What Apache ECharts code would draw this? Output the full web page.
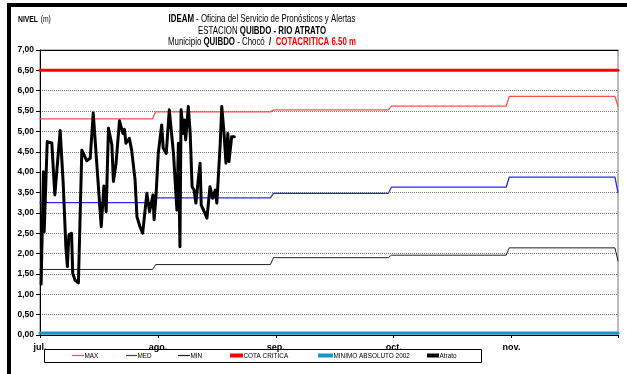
<!DOCTYPE html>
<html>
<head>
<meta charset="utf-8">
<script src="https://cdn.jsdelivr.net/npm/echarts@6/dist/echarts.min.js"></script>
<style>
  html, body { margin: 0; padding: 0; background: #fff; }
  #chart { width: 627px; height: 374px; }
</style>
</head>
<body>
<div id="chart"></div>
<script>
// Horizontal axis: days counted from 1 July, each month drawn as a 31-day slot
const monthLabels = ['jul.', 'ago.', 'sep.', 'oct.', 'nov.'];
const daysPerSlot = 31;
const axisEnd = 152;

// Monthly reference levels (m), July..November, plus the closing value at the right edge
const maxLevels = [5.31, 5.48, 5.53, 5.62, 5.86];
const maxClose = 5.62;
const medLevels = [3.25, 3.37, 3.48, 3.63, 3.88];
const medClose = 3.50;
const minLevels = [1.61, 1.73, 1.90, 1.96, 2.14];
const minClose = 1.82;

const cotaCritica = 6.50;
const minimoAbsoluto2002 = 0.05;

// Observed level of the Atrato river at Quibdó
const atratoDay = [0.3, 0.9, 1.1, 1.9, 2.4, 3.1, 3.9, 5.3, 6.1, 6.8, 7.2, 7.6, 8.3, 8.6, 9.2, 10.1,
  11.0, 12.3, 13.2, 14.0, 16.1, 16.8, 17.4, 18.0, 18.9, 19.3, 20.0, 20.9, 21.8, 22.2, 22.6, 23.5,
  24.1, 25.0, 25.5, 26.3, 27.0, 28.1, 28.8, 29.7, 30.0, 30.5, 31.1, 32.0, 32.4, 33.2, 34.0, 35.1,
  36.0, 36.4, 36.8, 37.1, 37.7, 38.0, 38.3, 39.0, 39.5, 40.0, 40.5, 41.0, 41.7, 42.1, 42.4, 43.0,
  43.9, 44.7, 45.4, 46.1, 46.5, 46.9, 47.4, 47.8, 48.4, 48.9, 49.4, 49.7, 50.4, 51.1];
const atratoLevel = [1.25, 4.01, 2.54, 4.75, 4.78, 4.72, 3.44, 5.02, 3.73, 2.17, 1.68, 2.46, 2.50, 1.52, 1.35, 1.28,
  4.54, 4.28, 4.34, 5.45, 2.66, 3.66, 3.03, 5.08, 4.67, 3.77, 4.22, 5.26, 4.95, 5.05, 4.71, 4.83,
  4.54, 3.81, 2.90, 2.66, 2.50, 3.48, 3.03, 3.44, 2.83, 3.41, 4.46, 5.16, 4.59, 4.46, 5.53, 4.46,
  3.07, 4.71, 2.17, 5.53, 4.95, 5.28, 4.79, 5.61, 4.95, 3.64, 3.56, 3.24, 3.89, 4.22, 3.19, 3.07,
  2.87, 3.64, 3.36, 3.56, 3.24, 3.89, 4.71, 5.61, 4.95, 4.22, 4.95, 4.26, 4.87, 4.87];

// Build step polylines: flat within each month, changing at the month boundary
function monthlySteps(levels, close) {
  const pts = [];
  levels.forEach((v, m) => {
    const start = m === 0 ? 0 : m * daysPerSlot - 0.6;
    const end = Math.min((m + 1) * daysPerSlot - 1.4, axisEnd - 0.8);
    pts.push([start, v], [end, v]);
  });
  pts.push([axisEnd, close]);
  return pts;
}
const flat = v => [[0, v], [axisEnd, v]];
const atrato = atratoDay.map((d, i) => [d, atratoLevel[i]]);

const sans = "'Liberation Sans', Arial, sans-serif";
const headerSqueeze = 0.75;  // horizontal compression for the narrow header lettering
const legendSqueeze = 0.8;   // and for the legend lettering

// Series styling (name, colour, width)
const seriesStyle = [
  { name: 'MAX', color: '#ff5050', width: 1.3 },
  { name: 'MED', color: '#2a2aff', width: 1.3 },
  { name: 'MIN', color: '#222222', width: 1 },
  { name: 'COTA CRITICA', color: '#ff0000', width: 3 },
  { name: 'MINIMO ABSOLUTO 2002', color: '#1496cf', width: 3 },
  { name: 'Atrato', color: '#000000', width: 3 }
];
const seriesData = [
  monthlySteps(maxLevels, maxClose),
  monthlySteps(medLevels, medClose),
  monthlySteps(minLevels, minClose),
  flat(cotaCritica),
  flat(minimoAbsoluto2002),
  atrato
];

// Legend key positions inside the framed box
const legendX = [72, 126, 178, 230, 318, 427];
const legendKeyLen = [12, 11, 12, 13, 15, 12];
const legendLineW = [1.2, 1.2, 1.2, 4, 4, 4];
const legendY = 355.5;

const headerLine = (y, text, rich) => ({
  type: 'text', x: 262, y, scaleX: headerSqueeze, silent: true,
  style: { text, rich, align: 'center', verticalAlign: 'middle' }
});
const hRich = {
  b: { fontFamily: sans, fontSize: 10.5, fontWeight: 'bold', fill: '#000' },
  r: { fontFamily: sans, fontSize: 10.5, fontWeight: 'normal', fill: '#000' },
  red: { fontFamily: sans, fontSize: 10.5, fontWeight: 'bold', fill: '#ff0000' }
};

const graphics = [
  { type: 'rect', shape: { x: 9, y: 5, width: 660, height: 420 }, style: { fill: 'none', stroke: '#000', lineWidth: 4 }, silent: true },
  headerLine(19.5, '{b|IDEAM}{r| - Oficina del Servicio de Pronósticos y Alertas}', hRich),
  headerLine(31, '{r|ESTACION }{b|QUIBDO - RIO ATRATO}', hRich),
  headerLine(42.5, '{r|Municipio }{b|QUIBDO}{r| - Chocó  }{b|/  }{red|COTACRITICA 6.50 m}', hRich),
  { type: 'text', x: 18, y: 20, scaleX: legendSqueeze, silent: true, style: {
      text: '{b|NIVEL} {r|(m)}', verticalAlign: 'middle', rich: {
        b: { fontFamily: sans, fontSize: 8.5, fontWeight: 'bold', fill: '#000' },
        r: { fontFamily: sans, fontSize: 8.5, fontWeight: 'normal', fill: '#000' } } } },
  { type: 'rect', shape: { x: 44.5, y: 349.5, width: 437, height: 13 }, style: { fill: 'none', stroke: '#000', lineWidth: 1 }, silent: true }
];
seriesStyle.forEach((s, i) => {
  const x0 = legendX[i], x1 = x0 + legendKeyLen[i];
  graphics.push({ type: 'line', silent: true, shape: { x1: x0, y1: legendY, x2: x1, y2: legendY },
    style: { stroke: s.color, lineWidth: legendLineW[i] } });
  graphics.push({ type: 'text', x: x1 + 0.5, y: legendY, scaleX: legendSqueeze, silent: true,
    style: { text: s.name, fontFamily: sans, fontSize: 8, fill: '#000', verticalAlign: 'middle' } });
});

const chart = echarts.init(document.getElementById('chart'), null, { renderer: 'canvas' });
chart.setOption({
  animation: false,
  backgroundColor: '#fff',
  graphic: graphics,
  grid: { left: 40, right: 9, top: 50, bottom: 39, show: true, borderColor: '#777', borderWidth: 1 },
  xAxis: [{
    type: 'value', min: 0, max: axisEnd, interval: daysPerSlot,
    axisLine: { show: true, lineStyle: { color: '#000' } },
    axisTick: { show: true, length: 3, lineStyle: { color: '#000' } },
    splitLine: { show: false },
    axisLabel: {
      margin: 8, fontFamily: sans, fontSize: 9, fontWeight: 'bold', color: '#000',
      formatter: v => monthLabels[Math.round(v / daysPerSlot)] || ''
    }
  }, {
    type: 'value', position: 'top', min: 0, max: axisEnd,
    axisLine: { show: true, onZero: false, lineStyle: { color: '#000' } },
    axisTick: { show: false }, axisLabel: { show: false }, splitLine: { show: false }
  }],
  yAxis: {
    type: 'value', min: 0, max: 7, interval: 0.5,
    axisLine: { show: true, lineStyle: { color: '#000' } },
    axisTick: { show: true, length: 4, lineStyle: { color: '#000' } },
    splitLine: { show: true, lineStyle: { color: '#777', type: [1, 1], width: 1 } },
    axisLabel: {
      margin: 6, fontFamily: sans, fontSize: 8.5, fontWeight: 'bold', color: '#000',
      formatter: v => v.toFixed(2).replace('.', ',')
    }
  },
  series: seriesStyle.map((s, i) => ({
    name: s.name, type: 'line', data: seriesData[i], symbol: 'none', color: s.color,
    lineStyle: { width: s.width, color: s.color, join: 'round', cap: 'round' }
  }))
});
</script>
</body>
</html>
